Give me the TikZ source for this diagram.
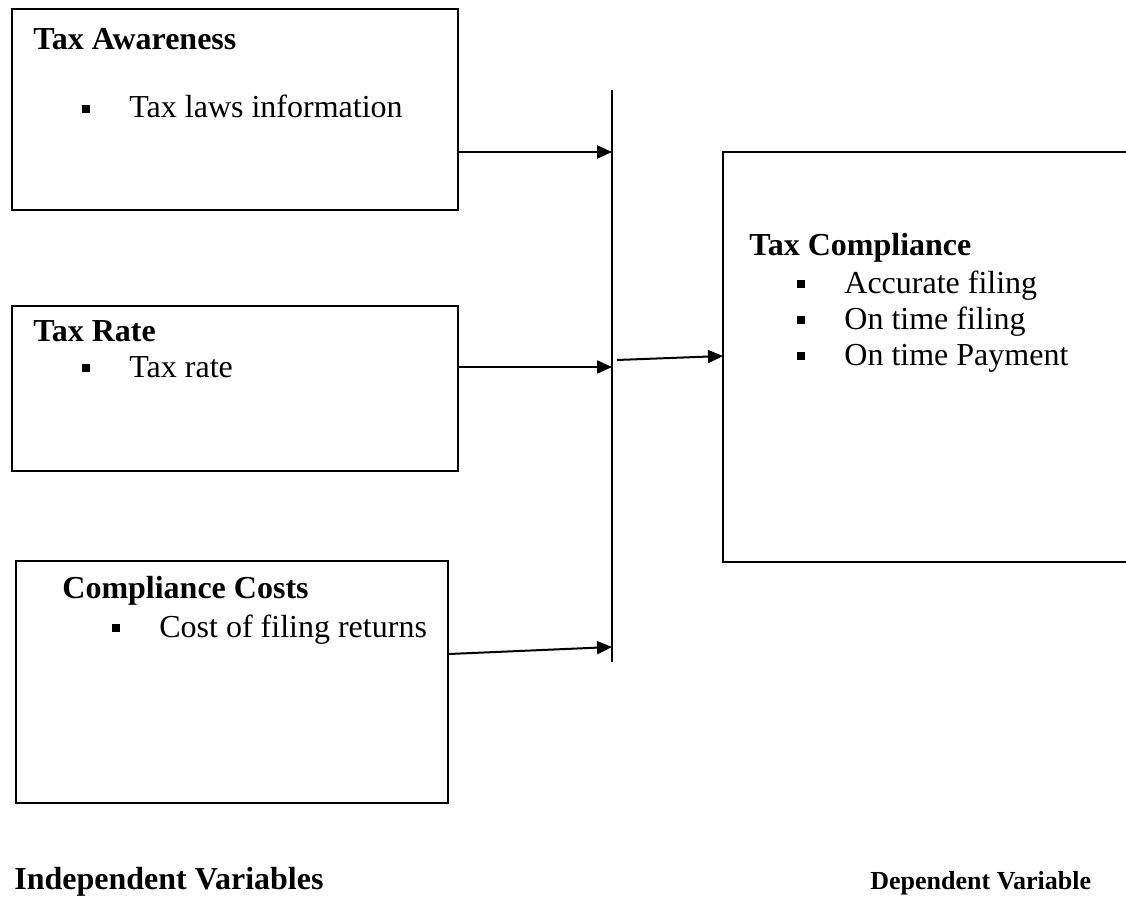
\documentclass[tikz,border=0pt]{standalone}
\usepackage{fontspec}
\setmainfont{Liberation Serif}
\usetikzlibrary{arrows.meta}
\newcommand{\sqbul}{\makebox[23.5pt][l]{\rule[2.5pt]{4pt}{4pt}}}
\begin{document}
\begin{tikzpicture}[x=0.5pt,y=-0.5pt,
  boxst/.style={draw=black,line width=1pt,rectangle,inner sep=0pt,anchor=north west},
  txt/.style={anchor=base west,inner sep=0pt,font=\fontsize{16}{19}\selectfont},
  ttl/.style={txt,font=\fontsize{16}{19}\selectfont\bfseries},
  conn/.style={line width=1pt,-{Triangle[length=7.5pt,width=6.5pt]}}]
\useasboundingbox (0,0) rectangle (1126,899);
% boxes
\node[boxst,minimum width=223pt,minimum height=100.5pt] (b1) at (11,8) {};
\node[boxst,minimum width=223pt,minimum height=82.5pt] (b2) at (11,305) {};
\node[boxst,minimum width=216pt,minimum height=121pt] (b3) at (15,560) {};
\node[boxst,draw=none,minimum width=205pt,minimum height=204pt] (b4) at (723,152) {};
\draw[line width=1pt] ([xshift=3pt]b4.north east) -- (b4.north west) -- (b4.south west) -- ([xshift=3pt]b4.south east);
% texts
\node[ttl] (t1) at (33,50) {Tax Awareness};
\node[txt] (i1) at (82,118) {\sqbul Tax laws information};
\node[ttl] (t2) at (33,342) {Tax Rate};
\node[txt] (i2) at (82,377) {\sqbul Tax rate};
\node[ttl] (t3) at (62,598) {Compliance Costs};
\node[txt] (i3) at (112,637) {\sqbul Cost of filing returns};
\node[ttl] (t4) at (749,256) {Tax Compliance};
\node[txt] (i4a) at (797,293) {\sqbul Accurate filing};
\node[txt] (i4b) at (797,329) {\sqbul On time filing};
\node[txt] (i4c) at (797,365) {\sqbul On time Payment};
\node[ttl] (l1) at (14,889) {Independent Variables};
\node[anchor=base west,inner sep=0pt,font=\fontsize{13}{16}\selectfont\bfseries] (l2) at (870,889) {Dependent Variable};
% junction bar
\coordinate (vtop) at (612,90);
\coordinate (vbot) at (612,662);
\draw[line width=1pt] (vtop) -- (vbot);
\coordinate (a1e) at (612,152);
\coordinate (a2e) at (612,367);
\coordinate (a3e) at (612,647);
\coordinate (a4s) at (617,360);
\draw[conn] (b1.east |- a1e) -- (a1e);
\draw[conn] (b2.east |- a2e) -- (a2e);
\draw[conn] (b3.east |- 0,654) -- (a3e);
\draw[conn] (a4s) -- (b4.west |- 0,356);
\end{tikzpicture}
\end{document}
